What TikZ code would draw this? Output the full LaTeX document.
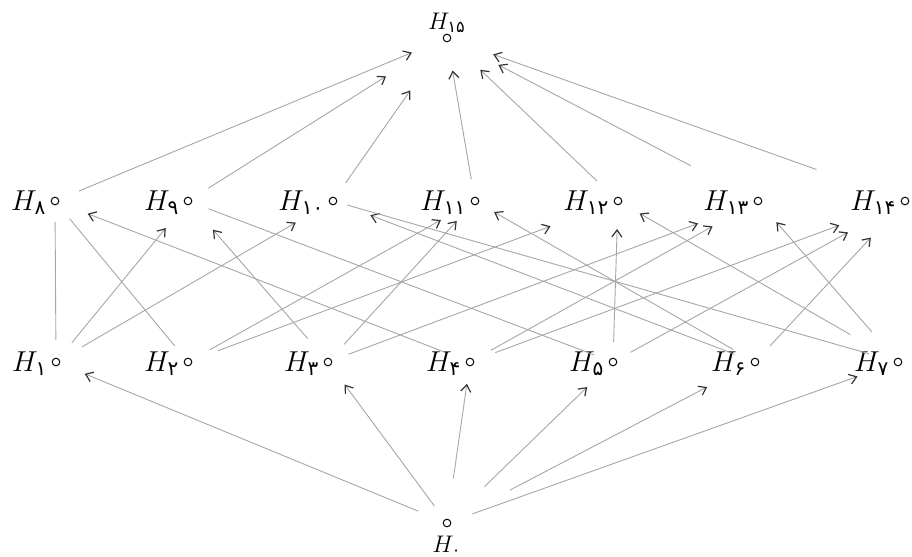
\documentclass[tikz,border=0pt]{standalone}
\usepackage{amsmath}
\usepackage{fontspec}
\usepackage{tikz}
\usetikzlibrary{arrows.meta}
\newfontfamily\pdig{DejaVu Sans}
\newcommand{\hsub}[1]{H_{\text{\pdig #1}}}

\begin{document}
\begin{tikzpicture}[x=0.5pt,y=-0.5pt,
    pt/.style={circle,draw,inner sep=0pt,minimum size=3.8pt,line width=0.5pt},
    lab/.style={anchor=base east,font=\Large,inner sep=0pt,xshift=-2pt,yshift=-4.5pt},
    endlab/.style={anchor=base,font=\large,inner sep=0pt},
    edge/.style={draw=black!35,line width=0.45pt},
    arr/.style={edge,-{Straight Barb[length=3.5pt,width=5pt,color=black!80,line width=0.6pt]}}]
    \useasboundingbox (0,0) rectangle (912,557);

    \node[pt] (h15) at (447,38) {};
    \node[pt] (h0) at (447,523) {};
    \node[endlab] (t15) at ([yshift=4.5pt]h15.center) {$\hsub{۱۵}$};
    \node[endlab] (t0) at ([yshift=-14.5pt]h0.center) {$\hsub{۰}$};

    \node[pt] (h8) at (55,201) {};
    \node[pt] (h9) at (188,201) {};
    \node[pt] (h10) at (333,201) {};
    \node[pt] (h11) at (475,201) {};
    \node[pt] (h12) at (618,201) {};
    \node[pt] (h13) at (758,201) {};
    \node[pt] (h14) at (905,201) {};

    \node[pt] (h1) at (56,362) {};
    \node[pt] (h2) at (188,362) {};
    \node[pt] (h3) at (328,362) {};
    \node[pt] (h4) at (470,362) {};
    \node[pt] (h5) at (613,362) {};
    \node[pt] (h6) at (755,362) {};
    \node[pt] (h7) at (898,362) {};

    \node[lab] (t8) at (h8.west) {$\hsub{۸}$};
    \node[lab] (t9) at (h9.west) {$\hsub{۹}$};
    \node[lab] (t10) at (h10.west) {$\hsub{۱۰}$};
    \node[lab] (t11) at (h11.west) {$\hsub{۱۱}$};
    \node[lab] (t12) at (h12.west) {$\hsub{۱۲}$};
    \node[lab] (t13) at (h13.west) {$\hsub{۱۳}$};
    \node[lab] (t14) at (h14.west) {$\hsub{۱۴}$};
    \node[lab] (t1) at (h1.west) {$\hsub{۱}$};
    \node[lab] (t2) at (h2.west) {$\hsub{۲}$};
    \node[lab] (t3) at (h3.west) {$\hsub{۳}$};
    \node[lab] (t4) at (h4.west) {$\hsub{۴}$};
    \node[lab] (t5) at (h5.west) {$\hsub{۵}$};
    \node[lab] (t6) at (h6.west) {$\hsub{۶}$};
    \node[lab] (t7) at (h7.west) {$\hsub{۷}$};

    \foreach \a/\b/\s/\e in {h0/h1/31/31, h0/h3/21/28, h0/h4/45/22, h0/h5/52/36, h0/h6/71/54, h0/h7/27/43,
        h8/h15/26/38, h9/h15/24/72, h10/h15/22/64, h11/h15/22/33, h12/h15/29/46, h13/h15/76/58, h14/h15/94/49,
        h1/h9/25/35, h1/h10/30/43, h2/h11/25/39, h2/h12/32/72, h3/h9/31/38, h3/h11/24/27, h3/h13/22/64,
        h4/h8/27/35, h4/h13/24/52, h4/h14/27/70, h5/h12/20/28, h5/h14/20/65, h6/h10/22/40, h6/h11/25/22,
        h6/h14/22/50, h7/h12/55/25, h7/h13/40/28}
        \draw[arr,shorten <=\s*0.5pt,shorten >=\e*0.5pt] (\a.center) -- (\b.center);

    \foreach \a/\b/\s/\e in {h1/h8/22/21, h2/h8/21/23, h5/h9/20/22, h7/h10/30/15}
        \draw[edge,shorten <=\s*0.5pt,shorten >=\e*0.5pt] (\a.center) -- (\b.center);
\end{tikzpicture}
\end{document}
